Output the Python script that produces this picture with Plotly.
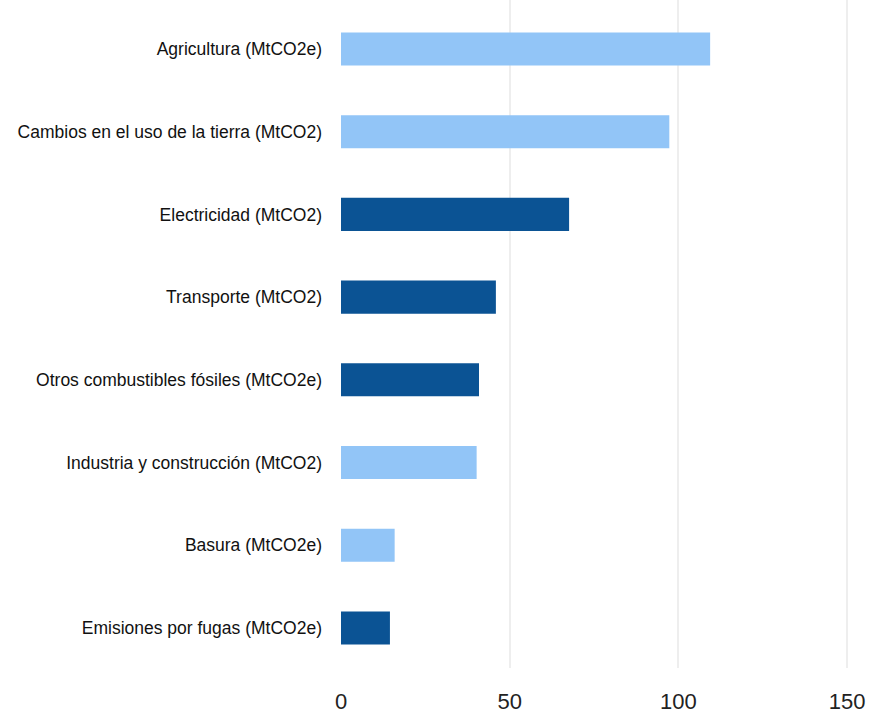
import plotly.graph_objects as go

categories = [
    "Agricultura (MtCO2e)",
    "Cambios en el uso de la tierra (MtCO2)",
    "Electricidad (MtCO2)",
    "Transporte (MtCO2)",
    "Otros combustibles fósiles (MtCO2e)",
    "Industria y construcción (MtCO2)",
    "Basura (MtCO2e)",
    "Emisiones por fugas (MtCO2e)",
]
values = [109.4, 97.3, 67.6, 45.9, 40.9, 40.2, 15.9, 14.5]
groups = ["light", "light", "dark", "dark", "dark", "light", "light", "dark"]
palette = {"light": "#92C5F7", "dark": "#0B5394"}
tick_vals = [0, 50, 100, 150]

fig = go.Figure(
    go.Bar(
        x=values,
        y=categories,
        orientation="h",
        marker=dict(color=[palette[g] for g in groups], line=dict(width=0)),
        width=0.4,
    )
)

fig.update_layout(
    width=869,
    height=714,
    margin=dict(l=341, r=5, t=0, b=46),
    plot_bgcolor="white",
    paper_bgcolor="white",
    font=dict(family="Liberation Sans, Arial, sans-serif"),
    showlegend=False,
)
fig.update_xaxes(
    range=[0, 155],
    tickvals=tick_vals,
    showgrid=True,
    gridcolor="#EEEEEE",
    gridwidth=2,
    zeroline=False,
    showline=False,
    ticks="",
    automargin=False,
    ticklabelstandoff=18,
    tickfont=dict(size=22, color="#222222"),
)
fig.update_yaxes(
    categoryorder="array",
    categoryarray=categories[::-1],
    range=[-0.484, 7.592],
    showgrid=False,
    zeroline=False,
    showline=False,
    ticks="",
    automargin=False,
    ticklabelstandoff=18,
    tickfont=dict(size=17.5, color="#111111"),
)

fig.write_html("out.html")
